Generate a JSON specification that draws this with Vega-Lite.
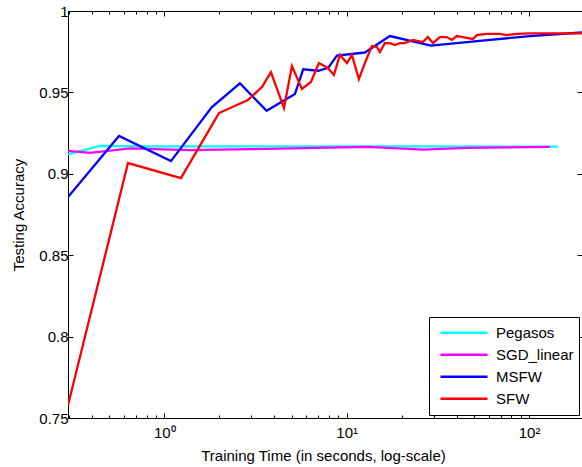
{
  "$schema": "https://vega.github.io/schema/vega-lite/v6.json",
  "width": 514,
  "height": 407,
  "autosize": {"type": "none"},
  "padding": {"left": 68, "top": 11, "right": 0, "bottom": 49},
  "background": "white",
  "config": {
    "font": "Liberation Sans",
    "view": {"stroke": "black", "strokeWidth": 1},
    "axis": {"domainColor": "black", "tickColor": "black", "labelColor": "black", "titleColor": "black", "grid": false, "labelFontSize": 15, "titleFontSize": 15, "titleFontWeight": "normal"}
  },
  "data": {
    "values": [
      {"series": "Pegasos", "time": 0.2966, "acc": 0.912},
      {"series": "Pegasos", "time": 0.4443, "acc": 0.9172},
      {"series": "Pegasos", "time": 0.835, "acc": 0.9169},
      {"series": "Pegasos", "time": 5.54, "acc": 0.9168},
      {"series": "Pegasos", "time": 36.8, "acc": 0.9168},
      {"series": "Pegasos", "time": 143.6, "acc": 0.9167},
      {"series": "SGD_linear", "time": 0.2966, "acc": 0.9141},
      {"series": "SGD_linear", "time": 0.3916, "acc": 0.9129},
      {"series": "SGD_linear", "time": 0.6486, "acc": 0.9156},
      {"series": "SGD_linear", "time": 1.383, "acc": 0.9145},
      {"series": "SGD_linear", "time": 2.949, "acc": 0.9151},
      {"series": "SGD_linear", "time": 12.9, "acc": 0.9165},
      {"series": "SGD_linear", "time": 26.16, "acc": 0.9149},
      {"series": "SGD_linear", "time": 45.56, "acc": 0.9159},
      {"series": "SGD_linear", "time": 129.8, "acc": 0.9165},
      {"series": "MSFW", "time": 0.2966, "acc": 0.8857},
      {"series": "MSFW", "time": 0.5646, "acc": 0.9232},
      {"series": "MSFW", "time": 1.088, "acc": 0.9078},
      {"series": "MSFW", "time": 1.818, "acc": 0.9408},
      {"series": "MSFW", "time": 2.598, "acc": 0.9556},
      {"series": "MSFW", "time": 3.639, "acc": 0.9387},
      {"series": "MSFW", "time": 5.202, "acc": 0.949},
      {"series": "MSFW", "time": 5.775, "acc": 0.9642},
      {"series": "MSFW", "time": 6.98, "acc": 0.9633},
      {"series": "MSFW", "time": 7.92, "acc": 0.9651},
      {"series": "MSFW", "time": 8.84, "acc": 0.9726},
      {"series": "MSFW", "time": 12.58, "acc": 0.9745},
      {"series": "MSFW", "time": 17.25, "acc": 0.9846},
      {"series": "MSFW", "time": 28.93, "acc": 0.9787},
      {"series": "MSFW", "time": 53.7, "acc": 0.9816},
      {"series": "MSFW", "time": 100.9, "acc": 0.9846},
      {"series": "MSFW", "time": 194.5, "acc": 0.9868},
      {"series": "SFW", "time": 0.2966, "acc": 0.7578},
      {"series": "SFW", "time": 0.6325, "acc": 0.9066},
      {"series": "SFW", "time": 1.234, "acc": 0.8973},
      {"series": "SFW", "time": 1.994, "acc": 0.9373},
      {"series": "SFW", "time": 2.875, "acc": 0.9453},
      {"series": "SFW", "time": 3.43, "acc": 0.9533},
      {"series": "SFW", "time": 3.843, "acc": 0.9625},
      {"series": "SFW", "time": 4.529, "acc": 0.9404},
      {"series": "SFW", "time": 5.01, "acc": 0.9662},
      {"series": "SFW", "time": 5.682, "acc": 0.9521},
      {"series": "SFW", "time": 6.365, "acc": 0.9564},
      {"series": "SFW", "time": 7.042, "acc": 0.968},
      {"series": "SFW", "time": 7.889, "acc": 0.965},
      {"series": "SFW", "time": 8.511, "acc": 0.9607},
      {"series": "SFW", "time": 9.178, "acc": 0.973},
      {"series": "SFW", "time": 10.03, "acc": 0.968},
      {"series": "SFW", "time": 10.68, "acc": 0.973},
      {"series": "SFW", "time": 11.66, "acc": 0.9582},
      {"series": "SFW", "time": 12.58, "acc": 0.968},
      {"series": "SFW", "time": 13.74, "acc": 0.9785},
      {"series": "SFW", "time": 14.64, "acc": 0.9779},
      {"series": "SFW", "time": 15.2, "acc": 0.9748},
      {"series": "SFW", "time": 16.19, "acc": 0.9803},
      {"series": "SFW", "time": 17.25, "acc": 0.9803},
      {"series": "SFW", "time": 18.37, "acc": 0.9791},
      {"series": "SFW", "time": 19.56, "acc": 0.9803},
      {"series": "SFW", "time": 20.84, "acc": 0.9803},
      {"series": "SFW", "time": 23.06, "acc": 0.9822},
      {"series": "SFW", "time": 26.16, "acc": 0.9809},
      {"series": "SFW", "time": 27.86, "acc": 0.984},
      {"series": "SFW", "time": 29.68, "acc": 0.9803},
      {"series": "SFW", "time": 32.41, "acc": 0.984},
      {"series": "SFW", "time": 35.4, "acc": 0.984},
      {"series": "SFW", "time": 37.71, "acc": 0.9822},
      {"series": "SFW", "time": 40.18, "acc": 0.9846},
      {"series": "SFW", "time": 43.32, "acc": 0.984},
      {"series": "SFW", "time": 49.15, "acc": 0.9828},
      {"series": "SFW", "time": 51.69, "acc": 0.9852},
      {"series": "SFW", "time": 58.65, "acc": 0.9859},
      {"series": "SFW", "time": 69.11, "acc": 0.9859},
      {"series": "SFW", "time": 75.0, "acc": 0.9852},
      {"series": "SFW", "time": 85.64, "acc": 0.9859},
      {"series": "SFW", "time": 100.9, "acc": 0.9863},
      {"series": "SFW", "time": 114.4, "acc": 0.9862},
      {"series": "SFW", "time": 141.9, "acc": 0.9863},
      {"series": "SFW", "time": 194.5, "acc": 0.9863}
    ]
  },
  "layer": [
    {
      "mark": {"type": "line", "strokeWidth": 2.3, "clip": true},
      "encoding": {
        "x": {
          "field": "time", "type": "quantitative",
          "scale": {"type": "log", "domain": [0.2966, 195], "nice": false},
          "axis": {
            "orient": "bottom",
            "values": [0.3, 0.4, 0.5, 0.6, 0.7, 0.8, 0.9, 1, 2, 3, 4, 5, 6, 7, 8, 9, 10, 20, 30, 40, 50, 60, 70, 80, 90, 100],
            "tickSize": {"condition": {"test": "datum.value == 1 || datum.value == 10 || datum.value == 100", "value": -5}, "value": -3},
            "labelExpr": "datum.value == 1 ? '10⁰' : datum.value == 10 ? '10¹' : datum.value == 100 ? '10²' : ''",
            "labelBaseline": "alphabetic",
            "labelPadding": 24,
            "labelFlush": false,
            "labelOverlap": false,
            "title": "Training Time (in seconds, log-scale)",
            "titleBaseline": "alphabetic",
            "titleAlign": "center",
            "titleX": 255,
            "titleY": 42
          }
        },
        "y": {
          "field": "acc", "type": "quantitative",
          "scale": {"domain": [0.75, 1], "nice": false, "zero": false},
          "axis": {
            "orient": "left",
            "values": [0.75, 0.8, 0.85, 0.9, 0.95, 1],
            "format": ".2~f",
            "tickSize": -5,
            "labelPadding": 5,
            "title": "Testing Accuracy",
            "titleBaseline": "alphabetic",
            "titleAlign": "center",
            "titleAngle": -90,
            "titleX": -45,
            "titleY": 203.5
          }
        },
        "color": {
          "field": "series", "type": "nominal",
          "scale": {"domain": ["Pegasos", "SGD_linear", "MSFW", "SFW"], "range": ["#00FFFF", "#FF00FF", "#0000FF", "#FF0000"]},
          "legend": {
            "orient": "none", "legendX": 361, "legendY": 306,
            "title": null,
            "symbolType": "stroke", "symbolSize": 2209, "symbolStrokeWidth": 2.3,
            "clipHeight": 21.5, "rowPadding": 0, "padding": 5,
            "symbolOffset": 5, "labelOffset": 7,
            "labelFontSize": 15, "labelColor": "black",
            "fillColor": "white", "strokeColor": "black", "cornerRadius": 0
          }
        }
      }
    },
    {
      "mark": {"type": "point", "opacity": 0},
      "encoding": {
        "x": {
          "field": "time", "type": "quantitative",
          "scale": {"type": "log", "domain": [0.2966, 195], "nice": false},
          "axis": {
            "orient": "top",
            "values": [0.3, 0.4, 0.5, 0.6, 0.7, 0.8, 0.9, 1, 2, 3, 4, 5, 6, 7, 8, 9, 10, 20, 30, 40, 50, 60, 70, 80, 90, 100],
            "tickSize": {"condition": {"test": "datum.value == 1 || datum.value == 10 || datum.value == 100", "value": -5}, "value": -3},
            "labels": false,
            "title": null
          }
        },
        "y": {
          "field": "acc", "type": "quantitative",
          "scale": {"domain": [0.75, 1], "nice": false, "zero": false},
          "axis": {
            "orient": "right",
            "values": [0.75, 0.8, 0.85, 0.9, 0.95, 1],
            "tickSize": -5,
            "labels": false,
            "title": null
          }
        }
      }
    }
  ],
  "resolve": {"axis": {"x": "independent", "y": "independent"}}
}
